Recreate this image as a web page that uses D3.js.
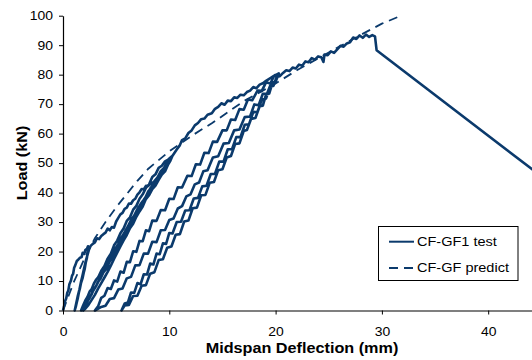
<!DOCTYPE html>
<html>
<head>
<meta charset="utf-8">
<script src="https://cdn.jsdelivr.net/npm/d3@7"></script>
<style>
  body { margin: 0; background: #fff; }
  text { font-family: "Liberation Sans", Arial, sans-serif; fill: #000; }
</style>
</head>
<body>
<svg id="chart" width="532" height="360"></svg>
<script>
// Test curve, one continuous series (deflection mm, load kN), split by cycle
const cycle1Load = [[0,0],[0.1,1.5],[0.2,3.2],[0.3,4.1],[0.4,6],[0.5,6.8],[0.6,8.9],[0.75,10.2],[0.85,11.8],[0.95,12.4],[1.05,14.5],[1.15,15.3],[1.3,16.8],[1.45,17.3],[1.6,17.9],[1.75,18.1],[1.85,19.6],[2.0,19.2],[2.1,20.5],[2.25,20.9],[2.35,21.8],[2.4,21.3]];
const cycle1Unload = [[2.3,19.5],[2.25,17.8],[2.15,16.4],[2.05,14.2],[1.95,12.8],[1.85,11.1],[1.7,9.4],[1.6,7.6],[1.5,6.2],[1.4,4.3],[1.3,2.8],[1.2,1.2],[1.1,0]];
const cycle2Load = [[1.25,2.5],[1.4,5.1],[1.55,7.2],[1.7,9.8],[1.85,12.1],[2.0,14.6],[2.15,16.9],[2.3,18.8],[2.45,20.7],[2.6,21.9],[2.8,22.6],[3.0,23.1],[3.2,24.5],[3.4,24.2],[3.6,25.3],[3.8,25.9],[4.0,26.4],[4.2,27.8],[4.4,27.2],[4.6,28.3],[4.8,28.1],[5.0,30.2],[5.2,31.4],[5.4,32.6],[5.6,33.1],[5.8,34.5],[6.0,34.9],[6.2,36.3],[6.4,36.2],[6.6,37.4],[6.8,37.9],[7.0,39.3],[7.2,40.1],[7.4,41.2],[7.6,41.1],[7.8,42.3],[8.0,42.2],[8.2,42.9],[8.4,43.4],[8.6,43.1],[8.8,44.6],[9.0,45.8],[9.2,46.5],[9.4,47.9],[9.6,48.6],[9.8,50.2],[10.0,51.1],[10.2,52]];
const cycle2Unload = [[10.0,50.5],[9.7,49.3],[9.4,47.6],[9.1,46.2],[8.8,44.1],[8.5,42.8],[8.2,41.4],[7.9,39.2],[7.6,37.6],[7.3,36.1],[7.0,34.4],[6.7,32.2],[6.4,30.7],[6.1,28.5],[5.8,26.6],[5.5,24.8],[5.2,22.6],[4.9,20.9],[4.6,18.5],[4.3,16.6],[4.0,14.3],[3.7,12.4],[3.4,10.3],[3.1,8.2],[2.8,6.4],[2.5,4.2],[2.2,2.6],[1.9,1.1],[1.7,0]];
const cycle3Load = [[1.9,1.8],[2.1,3.4],[2.3,4.6],[2.5,6.4],[2.7,7.3],[2.9,9.1],[3.1,10.4],[3.3,11.2],[3.6,13.5],[3.9,15.1],[4.2,17.6],[4.5,19.3],[4.8,22.1],[5.1,23.7],[5.4,26.2],[5.7,27.8],[6.0,30.4],[6.3,31.6],[6.6,34.2],[6.9,35.5],[7.2,37.9],[7.5,39.4],[7.8,41.6],[8.1,42.8],[8.4,45.3],[8.7,46.2],[9.0,48.4],[9.3,49.1],[9.6,50.6],[9.9,51.2],[10.3,52.5]];
const cycle3Unload = [[10.1,50.8],[9.9,49.6],[9.6,47.2],[9.3,46.1],[9.0,44.3],[8.7,42.4],[8.4,41.2],[8.1,39.1],[7.8,37.8],[7.5,35.3],[7.2,33.6],[6.9,31.8],[6.6,29.4],[6.3,27.9],[6.0,25.6],[5.7,23.8],[5.4,21.7],[5.1,19.6],[4.8,17.5],[4.5,15.2],[4.2,13.1],[3.9,11.2],[3.6,9.3],[3.3,7.4],[3.0,5.3],[2.7,3.6],[2.4,1.9],[2.1,0.6],[1.9,0]];
const cycle4Load = [[2.1,1.6],[2.3,3.0],[2.5,4.4],[2.7,5.5],[2.9,7.3],[3.1,8.2],[3.3,9.8],[3.5,10.6],[3.8,12.9],[4.1,14.2],[4.4,16.7],[4.7,18.1],[5.0,20.6],[5.3,22.2],[5.6,24.9],[5.9,26.3],[6.2,28.6],[6.5,30.1],[6.8,32.7],[7.1,34.0],[7.4,36.4],[7.7,37.9],[8.0,40.3],[8.3,41.6],[8.6,43.9],[8.9,45.2],[9.2,47.3],[9.5,48.4],[9.8,50.3],[10.1,51.4],[10.4,53],[10.7,54.6],[11.0,56.1],[11.2,57.8],[11.5,58.4],[11.8,60.2],[12.1,61.1],[12.4,62.8],[12.7,63.6],[13.0,64.9],[13.3,65.1],[13.6,66.4],[14.0,66.9],[14.3,68.4],[14.6,69.1],[14.9,70.3],[15.2,69.8],[15.5,71.2],[15.8,71.0],[16.1,72.3],[16.4,72.1],[16.7,73.2],[17.0,73.0],[17.3,74.1],[17.6,74.6],[17.9,75.8],[18.2,75.4],[18.5,76.6],[18.8,77.1],[19.1,77.9],[19.4,78.6],[19.7,79.3],[20.0,79.8],[20.3,80.4]];
const cycle4Unload = [[20.0,77.6],[19.6,77.3],[19.2,73.6],[18.8,73.5],[18.4,69.6],[18.0,69.9],[17.6,65.8],[17.1,65.6],[16.6,61.4],[16.1,61.1],[15.6,56.8],[15.1,56.6],[14.6,52.3],[14.1,51.9],[13.6,47.6],[13.2,47.2],[12.8,43.4],[12.4,42.8],[12.0,39.4],[11.6,38.7],[11.2,35.4],[10.8,34.6],[10.4,31.2],[10.0,30.7],[9.6,27.3],[9.2,27.2],[8.8,23.2],[8.4,23.3],[8.0,19.3],[7.6,19.3],[7.2,15.4],[6.8,15.3],[6.4,11.4],[6.0,10.9],[5.6,7.5],[5.2,7.1],[4.8,4.2],[4.4,3.9],[4.0,1.6],[3.6,1.2],[3.0,0]];
const cycle5Load = [[3.3,1.4],[3.6,4.3],[3.9,5.0],[4.2,7.6],[4.5,7.3],[4.8,10.2],[5.1,9.8],[5.4,13.2],[5.7,12.8],[6.0,16.5],[6.3,16.4],[6.6,20.1],[6.9,19.9],[7.2,23.6],[7.5,23.5],[7.8,27.2],[8.1,26.9],[8.4,30.5],[8.8,30.4],[9.2,34.1],[9.6,34.0],[10.0,37.9],[10.4,37.8],[10.8,41.8],[11.2,41.7],[11.7,45.7],[12.1,45.6],[12.5,49.6],[12.9,49.5],[13.3,53.5],[13.7,53.4],[14.1,57.3],[14.5,57.2],[15.0,61.1],[15.4,61.1],[15.8,64.8],[16.2,64.6],[16.6,68.3],[17.0,68.1],[17.4,71.6],[17.8,71.3],[18.3,74.6],[18.7,74.5],[19.1,77.4],[19.5,77.0],[19.9,79.8],[20.2,80.1]];
const cycle5Unload = [[20.0,77.8],[19.7,77.1],[19.4,73.6],[19.1,73.2],[18.8,69.5],[18.5,69.3],[18.1,65.3],[17.7,65.0],[17.3,61.2],[17.0,60.9],[16.6,56.7],[16.2,56.5],[15.8,52.4],[15.4,51.9],[15.0,47.9],[14.6,47.6],[14.2,43.6],[13.8,43.3],[13.4,39.2],[13.0,39.1],[12.6,34.9],[12.2,34.7],[11.8,30.5],[11.4,30.2],[11.0,25.9],[10.6,25.7],[10.2,21.7],[9.8,21.3],[9.4,17.4],[9.0,17.1],[8.6,13.0],[8.2,12.5],[7.8,8.6],[7.4,8.4],[7.0,5.0],[6.6,4.9],[6.2,1.9],[5.8,1.7],[5.5,0]];
const finalLoad = [[5.8,2.4],[6.1,2.7],[6.4,6.1],[6.7,6.0],[7.0,9.3],[7.3,8.9],[7.6,12.3],[7.9,12.2],[8.2,15.9],[8.5,15.6],[8.8,19.3],[9.1,19.1],[9.4,22.8],[9.7,22.6],[10.0,26.3],[10.3,26.1],[10.7,30.0],[11.1,30.1],[11.5,33.9],[11.9,34.0],[12.3,38.0],[12.7,38.2],[13.1,42.1],[13.5,42.3],[13.9,46.3],[14.3,46.4],[14.7,50.5],[15.1,50.5],[15.5,54.7],[15.9,54.7],[16.3,58.8],[16.7,58.9],[17.1,63.0],[17.5,63.2],[17.9,67.3],[18.3,67.4],[18.7,71.5],[19.1,71.9],[19.5,76.1],[19.8,76.2],[20.1,79.3],[20.4,79.5],[20.7,80.6],[21.0,81.5],[21.3,81.2],[21.6,82.4],[21.9,82.1],[22.2,83.4],[22.5,83.0],[22.8,84.5],[23.1,84.2],[23.4,85.6],[23.7,85.1],[24.0,86.2],[24.3,85.9],[24.5,84.3],[24.6,86.8],[24.9,86.6],[25.2,87.9],[25.5,87.4],[25.8,88.6],[26.1,89.8],[26.4,89.5],[26.7,90.6],[27.0,91.0],[27.3,92.6],[27.6,92.1],[27.9,93.3],[28.2,92.5],[28.5,93.6],[28.8,92.8],[29.1,93.4],[29.35,93.0],[29.5,88.3],[50,31.7]];

// Prediction curve
const predDeflection = [0, 1, 2, 3, 4, 5, 6, 7, 8, 9, 10, 11, 12, 13, 14, 15, 16, 17, 18, 19, 20, 22, 24, 26, 28, 30, 31.8];
const predLoad = [0, 9.5, 17.5, 24.5, 30, 35, 39.5, 44, 48, 51, 54, 56.5, 59, 61.3, 63.5, 66, 68.5, 71, 73, 75, 77, 81.5, 85.5, 89.5, 93.5, 97.3, 100];

const xTicks = [0, 10, 20, 30, 40];
const yTicks = [0, 10, 20, 30, 40, 50, 60, 70, 80, 90, 100];
const seriesNames = ["CF-GF1 test", "CF-GF predict"];

const navy = "#0b3a6c";
const svg = d3.select("#chart");

const x = d3.scaleLinear().domain([0, 50]).range([63, 594.5]);
const y = d3.scaleLinear().domain([0, 100]).range([310.5, 15.7]);

// horizontally widen text to mimic the stretched original
function stretch (sel, k) {
  sel.each(function () {
    const w = this.getComputedTextLength();
    d3.select(this).attr("textLength", w * k).attr("lengthAdjust", "spacingAndGlyphs");
  });
}

const testData = [].concat(cycle1Load, cycle1Unload, cycle2Load, cycle2Unload, cycle3Load,
  cycle3Unload, cycle4Load, cycle4Unload, cycle5Load, cycle5Unload, finalLoad);
const predData = predDeflection.map((d, i) => [d, predLoad[i]]);

const line = d3.line().x(d => x(d[0])).y(d => y(d[1]));

svg.append("path")
  .datum(predData)
  .attr("d", line)
  .attr("fill", "none")
  .attr("stroke", navy)
  .attr("stroke-width", 1.8)
  .attr("stroke-dasharray", "9,6");

svg.append("path")
  .datum(testData)
  .attr("d", line)
  .attr("fill", "none")
  .attr("stroke", navy)
  .attr("stroke-width", 2.6)
  .attr("stroke-linejoin", "round");

// Axes
const xAxis = svg.append("g")
  .attr("transform", "translate(0," + y(0) + ")")
  .call(d3.axisBottom(x).tickValues(xTicks).tickSizeInner(4).tickSizeOuter(0).tickPadding(13));
const yAxis = svg.append("g")
  .attr("transform", "translate(" + x(0) + ",0)")
  .call(d3.axisLeft(y).tickValues(yTicks).tickSizeInner(4).tickSizeOuter(0).tickPadding(6));

[xAxis, yAxis].forEach(function (g) {
  g.select(".domain").attr("stroke", "#000").attr("stroke-width", 1.2);
  g.selectAll(".tick line").attr("stroke", "#000");
  g.selectAll(".tick text")
    .attr("font-family", "Liberation Sans, Arial, sans-serif")
    .attr("font-size", 12)
    .attr("fill", "#000")
    .call(stretch, 1.16);
});

svg.append("text")
  .attr("x", 302)
  .attr("y", 353)
  .attr("text-anchor", "middle")
  .attr("font-weight", "bold")
  .attr("font-size", 15)
  .text("Midspan Deflection (mm)")
  .call(stretch, 1.08);

svg.append("text")
  .attr("transform", "translate(26.5,163) rotate(-90)")
  .attr("text-anchor", "middle")
  .attr("font-weight", "bold")
  .attr("font-size", 15)
  .text("Load (kN)")
  .call(stretch, 1.08);

// Legend
const legend = svg.append("g").attr("transform", "translate(378.5,226.5)");
legend.append("rect")
  .attr("width", 139.5)
  .attr("height", 54)
  .attr("fill", "#fff")
  .attr("stroke", "#000")
  .attr("stroke-width", 1);

const rows = legend.selectAll(".row")
  .data(seriesNames)
  .enter().append("g")
  .attr("class", "row")
  .attr("transform", function (d, i) { return "translate(0," + (15.2 + i * 26.3) + ")"; });

rows.append("line")
  .attr("x1", 10.5)
  .attr("x2", 35.5)
  .attr("stroke", navy)
  .attr("stroke-width", 2)
  .attr("stroke-dasharray", function (d, i) { return i ? "9,6" : null; });

rows.append("text")
  .attr("x", 38.5)
  .attr("dy", "0.36em")
  .attr("font-size", 12)
  .text(d => d)
  .call(stretch, 1.21);
</script>
</body>
</html>
